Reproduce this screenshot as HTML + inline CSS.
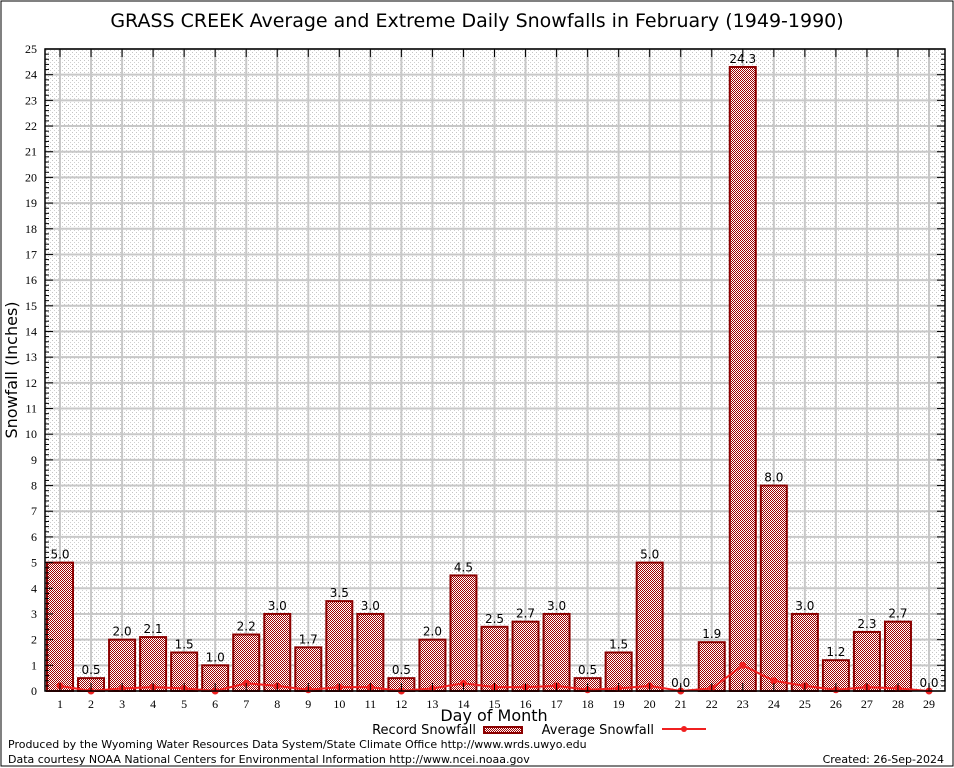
<!DOCTYPE html>
<html><head><meta charset="utf-8"><style>
html,body{margin:0;padding:0;background:#fff}
svg{display:block;font-family:"DejaVu Sans","Liberation Sans",sans-serif}
</style></head><body>
<svg id="chart" width="954" height="768" viewBox="0 0 954 768">
<defs>
<pattern id="dots" width="4" height="4" patternUnits="userSpaceOnUse"><rect x="0" y="0" width="1" height="1" fill="#c4c4c4"/><rect x="2" y="2" width="1" height="1" fill="#d0d0d0"/></pattern>
<pattern id="check" width="2" height="2" patternUnits="userSpaceOnUse"><rect width="2" height="2" fill="#fff"/><rect x="0" y="0" width="1" height="1" fill="#a00000"/><rect x="1" y="1" width="1" height="1" fill="#a00000"/></pattern>
</defs>
<rect x="1" y="1" width="952" height="765" fill="#fff" stroke="#000" stroke-width="1"/>
<text x="477" y="27" text-anchor="middle" font-size="19">GRASS CREEK Average and Extreme Daily Snowfalls in February (1949-1990)</text>
<rect x="45" y="49" width="900" height="642" fill="url(#dots)"/>
<g id="grid"></g>
<g id="bars"></g>
<g id="line"></g>
<g id="axes"></g>
<text transform="translate(17,370) rotate(-90)" text-anchor="middle" font-size="16">Snowfall (Inches)</text>
<text x="494" y="721" text-anchor="middle" font-size="16">Day of Month</text>
<g>
<text x="476" y="734" text-anchor="end" font-size="13">Record Snowfall</text>
<rect x="484" y="727" width="38" height="6" fill="url(#check)" stroke="#8b0000" stroke-width="2"/>
</g>
<g>
<text x="654" y="734" text-anchor="end" font-size="13">Average Snowfall</text>
<line x1="662" y1="729" x2="706" y2="729" stroke="#f02020" stroke-width="2"/>
<circle cx="684" cy="729" r="3" fill="#f02020"/>
</g>
<text x="8" y="748" font-size="11">Produced by the Wyoming Water Resources Data System/State Climate Office http://www.wrds.uwyo.edu</text>
<text x="8" y="763" font-size="11">Data courtesy NOAA National Centers for Environmental Information http://www.ncei.noaa.gov</text>
<text x="944" y="763" text-anchor="end" font-size="11">Created: 26-Sep-2024</text>
</svg>
<script>
const days=[1,2,3,4,5,6,7,8,9,10,11,12,13,14,15,16,17,18,19,20,21,22,23,24,25,26,27,28,29];
const record=[5.0,0.5,2.0,2.1,1.5,1.0,2.2,3.0,1.7,3.5,3.0,0.5,2.0,4.5,2.5,2.7,3.0,0.5,1.5,5.0,0.0,1.9,24.3,8.0,3.0,1.2,2.3,2.7,0.0];
const average=[0.2,0.0,0.1,0.15,0.1,0.0,0.3,0.2,0.05,0.15,0.15,0.0,0.1,0.3,0.15,0.15,0.2,0.05,0.1,0.2,0.0,0.1,1.0,0.4,0.2,0.05,0.15,0.1,0.0];
const yTicks=[0,1,2,3,4,5,6,7,8,9,10,11,12,13,14,15,16,17,18,19,20,21,22,23,24,25];
const NS="http://www.w3.org/2000/svg";
const L=45,R=945,T=49,B=691,yMax=25;
const x=d=>60+(d-1)*(929-60)/28;
const y=v=>B-(v/yMax)*(B-T);
function mk(tag,attrs,parent){const e=document.createElementNS(NS,tag);for(const k in attrs)e.setAttribute(k,attrs[k]);parent.appendChild(e);return e;}
const grid=document.getElementById('grid'),bars=document.getElementById('bars'),line=document.getElementById('line'),axes=document.getElementById('axes');
yTicks.forEach(t=>{
 const g=mk('line',{x1:L,x2:R,y1:y(t),y2:y(t),stroke:'#c8c8c8','stroke-width':2},grid);
 
 
 const lb=mk('text',{x:L-8,y:y(t)+4,'text-anchor':'end','font-size':12,'font-family':'Liberation Serif,serif'},axes);
 lb.textContent=t;
 
 
 mk('line',{x1:L,x2:L+8,y1:y(t),y2:y(t),stroke:'#000'},axes);
 mk('line',{x1:R,x2:R-8,y1:y(t),y2:y(t),stroke:'#000'},axes);
 if(t<yMax)for(let k=1;k<5;k++){mk('line',{x1:L,x2:L+4,y1:y(t+k/5),y2:y(t+k/5),stroke:'#000'},axes);mk('line',{x1:R,x2:R-4,y1:y(t+k/5),y2:y(t+k/5),stroke:'#000'},axes);}
});
days.forEach((d,i)=>{
 const g=mk('line',{x1:x(d),x2:x(d),y1:T,y2:B,stroke:'#c8c8c8','stroke-width':2},grid);
 
 
 mk('line',{x1:x(d),x2:x(d),y1:B,y2:B-8,stroke:'#000'},axes);
 mk('line',{x1:x(d),x2:x(d),y1:T,y2:T+8,stroke:'#000'},axes);
 const lb=mk('text',{x:x(d),y:B+17,'text-anchor':'middle','font-size':12,'font-family':'Liberation Serif,serif'},axes);
 lb.textContent=d;
 
 
 const v=record[i];
 if(v>0){
  const b=mk('rect',{x:x(d)-13,y:y(v),width:26,height:B-y(v),fill:'url(#check)',stroke:'#8b0000','stroke-width':2},bars);
  
  
 }
 const vl=mk('text',{x:x(d),y:y(v)-4,'text-anchor':'middle','font-size':12},bars);
 vl.textContent=v.toFixed(1);
 
 
});
const pts=days.map((d,i)=>x(d)+','+y(average[i])).join(' ');
const pl=mk('polyline',{points:pts,fill:'none',stroke:'#f02020','stroke-width':2},line);


days.forEach((d,i)=>{
 const c=mk('circle',{cx:x(d),cy:y(average[i]),r:3.5,fill:'#f02020'},line);
 
 
});
const fr=mk('rect',{x:L,y:T,width:R-L,height:B-T,fill:'none',stroke:'#000','stroke-width':1.5},axes);


</script>
</body></html>
